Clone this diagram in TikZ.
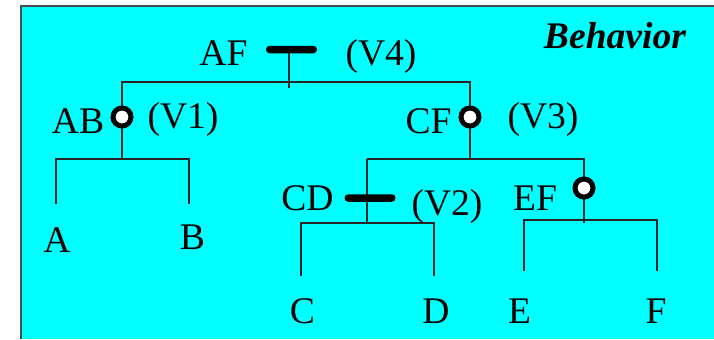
\documentclass[tikz,border=0pt]{standalone}
\usepackage{fontspec}
\setmainfont{Liberation Serif}
\definecolor{aqua}{RGB}{0,255,255}

\begin{document}
\begin{tikzpicture}[x=0.5pt, y=-0.5pt,
  wire/.style={draw=black!85, line width=0.55pt},
  ring/.style={circle, draw, fill=white, line width=2.5pt, minimum size=9pt, inner sep=0pt},
  bar/.style={rectangle, fill, rounded corners=1.8pt, minimum width=25.5pt, minimum height=3.75pt, inner sep=0pt},
  lbl/.style={anchor=base, inner sep=0pt, font=\fontsize{18.8}{20}\selectfont}]
  \useasboundingbox (0,0) rectangle (714,339);
  \fill[aqua] (21,6) rectangle (714,339);
  \draw[line width=0.9pt, black!70] (21,339) -- (21,6) -- (714,6);

  % junctions of the tree
  \coordinate (af) at (289,49.5);
  \coordinate (afbus) at (289,82);
  \coordinate (afend) at (289,88);
  \coordinate (ab) at (122,117);
  \coordinate (abbus) at (122,159);
  \coordinate (cf) at (470,117);
  \coordinate (cfbus) at (470,159);
  \coordinate (cdtop) at (367,159);
  \coordinate (cdbus) at (367,223);
  \coordinate (ef) at (584,188);
  \coordinate (efbus) at (584,220);
  \coordinate (efend) at (584,223);
  \coordinate (aend) at (56,204);
  \coordinate (bend) at (189,204);
  \coordinate (cend) at (301,276);
  \coordinate (dend) at (434,276);
  \coordinate (eend) at (524,271);
  \coordinate (fend) at (657,271);

  \draw[wire] (af) -- (afend);
  \draw[wire] (ab) |- (afbus) -| (cf);
  \draw[wire] (ab) -- (abbus);
  \draw[wire] (aend) |- (abbus) -| (bend);
  \draw[wire] (cf) -- (cfbus);
  \draw[wire] (cdtop) -| (ef);
  \draw[wire] (cdtop) -- (cdbus);
  \draw[wire] (cend) |- (cdbus) -| (dend);
  \draw[wire] (ef) -- (efend);
  \draw[wire] (eend) |- (efbus) -| (fend);

  \node[bar] (afbar) at (291.5,49.5) {};
  \node[bar] (cdbar) at (370,198) {};
  \node[ring] (abring) at (ab) {};
  \node[ring] (cfring) at (cf) {};
  \node[ring] (efring) at (ef) {};

  \node[lbl] (afl) at (223.5,65) {AF};
  \node[lbl] (v4) at (381,65) {(V4)};
  \node[lbl] (abl) at (78,133) {AB};
  \node[lbl] (v1) at (183,128) {(V1)};
  \node[lbl] (cfl) at (428.5,133) {CF};
  \node[lbl] (v3) at (543,128) {(V3)};
  \node[lbl] (cdl) at (307.5,210) {CD};
  \node[lbl] (v2) at (447,215) {(V2)};
  \node[lbl] (efl) at (535,210) {EF};
  \node[lbl] (a) at (57,252) {A};
  \node[lbl] (b) at (192.5,249) {B};
  \node[lbl] (c) at (302.5,323) {C};
  \node[lbl] (d) at (436,323) {D};
  \node[lbl] (e) at (519.5,323) {E};
  \node[lbl] (f) at (656,323) {F};
  \node[lbl, font=\fontsize{18.8}{20}\selectfont\bfseries\itshape] (title) at (615,48) {Behavior};
\end{tikzpicture}
\end{document}
